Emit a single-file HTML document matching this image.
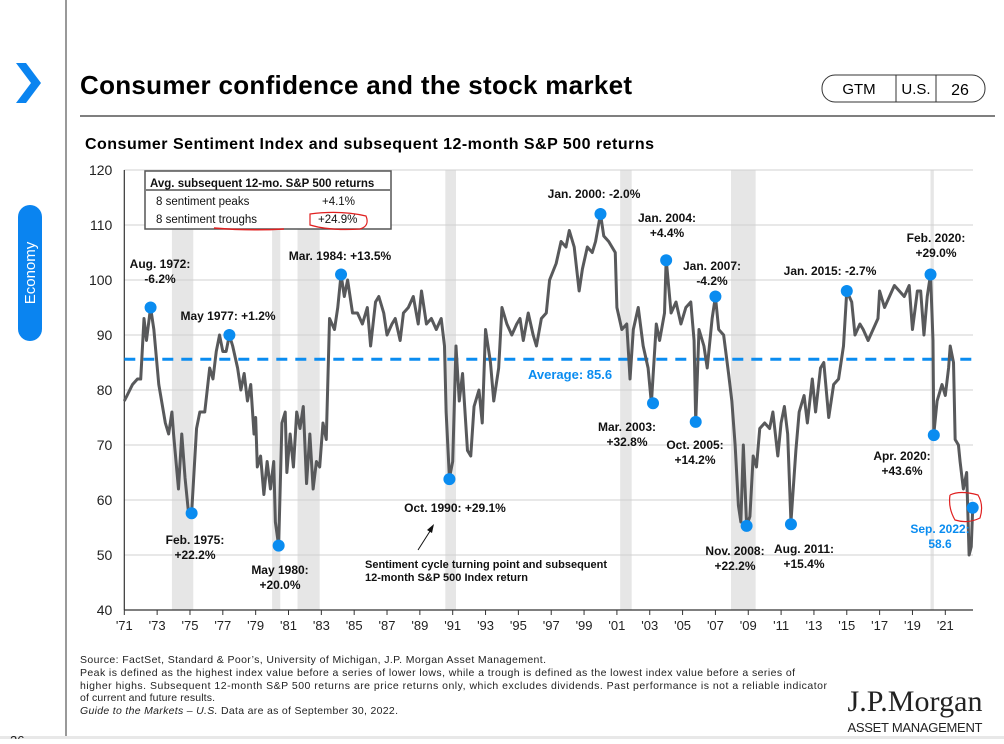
<!DOCTYPE html>
<html><head><meta charset="utf-8"><style>
body{margin:0;background:#fff;width:1004px;height:739px;overflow:hidden;font-family:"Liberation Sans",Arial,sans-serif;}
svg text{font-family:"Liberation Sans",Arial,sans-serif;}
</style></head><body>
<svg id="page" width="1004" height="739" xmlns="http://www.w3.org/2000/svg">
<line x1="66" y1="0" x2="66" y2="739" stroke="#333" stroke-width="1"/>
<rect x="0" y="736" width="1004" height="3" fill="#e8e8e8"/>
<path d="M16,63 L26,63 L41,83 L26,103 L16,103 L31,83 Z" fill="#0a84f0"/>
<rect x="18" y="205" width="24" height="136" rx="12" fill="#0a84f0"/>
<text x="35" y="273" fill="#fff" font-size="15" text-anchor="middle" transform="rotate(-90 35 273)">Economy</text>
<text x="80" y="94" font-size="26" font-weight="bold" fill="#000" textLength="552">Consumer confidence and the stock market</text>
<g>
<rect x="822" y="75" width="163" height="27" rx="13" fill="#fff" stroke="#333"/>
<line x1="896" y1="75" x2="896" y2="102" stroke="#333"/><line x1="936" y1="75" x2="936" y2="102" stroke="#333"/>
<text x="859" y="94" font-size="15" text-anchor="middle">GTM</text>
<text x="916" y="94" font-size="15" text-anchor="middle">U.S.</text>
<text x="960" y="95" font-size="16" text-anchor="middle">26</text>
</g>
<line x1="80" y1="116" x2="995" y2="116" stroke="#333" stroke-width="1.2"/>
<text x="85" y="149" font-size="16" font-weight="bold" textLength="569">Consumer Sentiment Index and subsequent 12-month S&amp;P 500 returns</text>
<g id="chart"></g>
<g font-size="10.5" fill="#222">
<text x="80" y="663" textLength="466">Source: FactSet, Standard &amp; Poor’s, University of Michigan, J.P. Morgan Asset Management.</text>
<text x="80" y="676" textLength="715">Peak is defined as the highest index value before a series of lower lows, while a trough is defined as the lowest index value before a series of</text>
<text x="80" y="689" textLength="747">higher highs. Subsequent 12-month S&amp;P 500 returns are price returns only, which excludes dividends. Past performance is not a reliable indicator</text>
<text x="80" y="701" textLength="135">of current and future results.</text>
<text x="80" y="714" textLength="318"><tspan font-style="italic">Guide to the Markets – U.S.</tspan> Data are as of September 30, 2022.</text>
</g>
<text x="915" y="711" font-size="30" text-anchor="middle" fill="#222" style="font-family:'Liberation Serif',serif" textLength="135">J.P.Morgan</text>
<text x="915" y="732" font-size="13" text-anchor="middle" fill="#222" textLength="135">ASSET MANAGEMENT</text>
<text x="10" y="745" font-size="13" fill="#222">26</text>
</svg>
<script>
const yTicks=[40,50,60,70,80,90,100,110,120];
const xTickYears=[1971,1973,1975,1977,1979,1981,1983,1985,1987,1989,1991,1993,1995,1997,1999,2001,2003,2005,2007,2009,2011,2013,2015,2017,2019,2021];
const recessionStarts=[1973.9,1980.0,1981.55,1990.55,2001.2,2007.95,2020.1];
const recessionEnds=[1975.2,1980.5,1982.9,1991.2,2001.9,2009.45,2020.3];
const averageValue=85.6;
const seriesDates=[1971.0,1971.5,1971.8,1972.0,1972.2,1972.35,1972.6,1972.8,1973.1,1973.5,1973.7,1973.9,1974.0,1974.3,1974.5,1974.7,1974.9,1975.1,1975.4,1975.6,1975.9,1976.2,1976.4,1976.6,1976.8,1977.0,1977.2,1977.4,1977.6,1977.9,1978.1,1978.3,1978.5,1978.7,1978.9,1979.0,1979.1,1979.3,1979.5,1979.7,1979.9,1980.1,1980.2,1980.4,1980.6,1980.8,1980.9,1981.1,1981.3,1981.5,1981.7,1981.9,1982.1,1982.3,1982.5,1982.7,1982.9,1983.1,1983.3,1983.5,1983.8,1984.0,1984.2,1984.4,1984.6,1984.9,1985.2,1985.5,1985.8,1986.0,1986.3,1986.5,1986.8,1987.0,1987.3,1987.5,1987.8,1988.0,1988.3,1988.6,1988.9,1989.1,1989.4,1989.7,1990.0,1990.3,1990.5,1990.6,1990.8,1991.0,1991.2,1991.4,1991.6,1991.9,1992.1,1992.3,1992.6,1992.8,1993.0,1993.3,1993.5,1993.8,1994.0,1994.3,1994.6,1994.9,1995.1,1995.3,1995.6,1995.9,1996.1,1996.4,1996.7,1996.9,1997.3,1997.6,1997.9,1998.1,1998.4,1998.7,1998.9,1999.2,1999.5,1999.7,2000.0,2000.2,2000.5,2000.9,2001.0,2001.3,2001.6,2001.8,2002.0,2002.3,2002.6,2002.9,2003.1,2003.4,2003.6,2003.9,2004.0,2004.3,2004.6,2004.9,2005.2,2005.5,2005.7,2005.8,2006.0,2006.3,2006.5,2006.8,2007.0,2007.2,2007.5,2007.8,2008.0,2008.2,2008.4,2008.55,2008.7,2008.9,2009.1,2009.3,2009.5,2009.7,2010.0,2010.3,2010.5,2010.8,2011.0,2011.2,2011.4,2011.6,2011.9,2012.1,2012.4,2012.6,2012.9,2013.1,2013.4,2013.6,2013.9,2014.2,2014.5,2014.8,2015.0,2015.3,2015.5,2015.8,2016.0,2016.3,2016.6,2016.9,2017.0,2017.3,2017.6,2017.9,2018.2,2018.5,2018.8,2019.0,2019.3,2019.5,2019.7,2019.9,2020.1,2020.25,2020.3,2020.5,2020.8,2021.0,2021.2,2021.3,2021.5,2021.6,2021.8,2021.9,2022.1,2022.3,2022.45,2022.58,2022.67];
const seriesValues=[78,81,82,82,93,89,95,91,81,74,72,76,72,62,72,64,58,57.6,73,76,76,84,82,87,90,87,87,90,88,84,80,83,78,81,72,75,66,68,61,67,62,67,56,51.7,74,76,65,72,66,76,73,77,63,72,62,67,66,74,71,93,91,95,101,97,100,94,94,92,95,88,96,97,94,90,92,93,89,94,95,97,92,98,92,93,91,93,88,76,64,67,88,78,83,69,68,77,80,74,91,85,78,84,95,92,90,92,93,89,94,90,88,93,94,100,103,107,106,109,106,98,102,106,105,107,112,108,107,105,95,91,92,82,91,95,88,84,77.6,92,89,94,103.8,94,96,92,95,96,89,74.2,91,88,84,93,97,91,90,83,78,70,59,56,70,55.3,57,68,66,73,74,73,76,68,74,77,72,56,69,76,79,74,82,76,84,85,75,81,82,88,98,96,90,92,91,89,91,93,98,95,97,99,98,97,99,91,98,98,90,97,101,89,72,78,81,79,84,88,85,71,70,67,62,65,50,51.5,58.6];
const markerDates=[1972.6,1975.1,1977.4,1980.4,1984.2,1990.8,2000.0,2003.2,2004.0,2005.8,2007.0,2008.9,2011.6,2015.0,2020.1,2020.3,2022.67];
const markerValues=[95,57.6,90,51.7,101,63.8,112,77.6,103.6,74.2,97,55.3,55.6,98,101,71.8,58.6];
const annLines=[["Aug. 1972:","-6.2%"],["Feb. 1975:","+22.2%"],["May 1977: +1.2%"],["May 1980:","+20.0%"],["Mar. 1984: +13.5%"],["Oct. 1990: +29.1%"],["Jan. 2000: -2.0%"],["Mar. 2003:","+32.8%"],["Jan. 2004:","+4.4%"],["Oct. 2005:","+14.2%"],["Jan. 2007:","-4.2%"],["Nov. 2008:","+22.2%"],["Aug. 2011:","+15.4%"],["Jan. 2015: -2.7%"],["Feb. 2020:","+29.0%"],["Apr. 2020:","+43.6%"],["Sep. 2022:","58.6"]];
const annPos=[[160,268],[195,544],[228,320],[280,574],[340,260],[455,512],[594,198],[627,431],[667,222],[695,449],[712,270],[735,555],[804,553],[830,275],[936,242],[902,460],[940,533]];

const NS="http://www.w3.org/2000/svg";
const X0=124.3,PX=16.42,Y0=610,PY=5.5,XR=973;
function xs(d){return X0+(d-1971)*PX;}
function ys(v){return Y0-(v-40)*PY;}
const g=document.getElementById('chart');
function mk(t,a,p){const e=document.createElementNS(NS,t);for(const k in a)e.setAttribute(k,a[k]);(p||g).appendChild(e);return e;}
recessionStarts.forEach((s,i)=>{
 const r=mk('rect',{x:xs(s),y:ys(120),width:xs(recessionEnds[i])-xs(s),height:ys(40)-ys(120),fill:'#e6e6e6'});
 
 
});
yTicks.forEach(v=>{
 if(v>40){const l=mk('line',{x1:X0,x2:XR,y1:ys(v),y2:ys(v),stroke:'#d0d0d0','stroke-width':1});
 
 }
 const t=mk('text',{x:X0-12,y:ys(v)+5,'font-size':14,'text-anchor':'end',fill:'#222'});t.textContent=v;
 
 
});
mk('line',{x1:X0,x2:X0,y1:ys(120),y2:ys(40),stroke:'#333','stroke-width':1.2});
const xa=mk('line',{x1:X0,x2:XR,y1:ys(40),y2:ys(40),stroke:'#333','stroke-width':1.2});


xTickYears.forEach(y=>{
 mk('line',{x1:xs(y),x2:xs(y),y1:ys(40),y2:ys(40)+5,stroke:'#333'});
 const t=mk('text',{x:xs(y),y:ys(40)+20,'font-size':13,'text-anchor':'middle',fill:'#222'});t.textContent="'"+String(y).slice(2);
 
 
});
const av=mk('line',{x1:X0,x2:XR,y1:ys(averageValue),y2:ys(averageValue),stroke:'#0a8cf0','stroke-width':3,'stroke-dasharray':'11,8'});


const at=mk('text',{x:528,y:379,'font-size':13,'font-weight':'bold',fill:'#0a8cf0'});at.textContent='Average: '+averageValue;


const pl=mk('polyline',{points:seriesDates.map((d,i)=>xs(d)+','+ys(seriesValues[i])).join(' '),fill:'none',stroke:'#58595b','stroke-width':3,'stroke-linejoin':'round'});


markerDates.forEach((d,i)=>{
 const c=mk('circle',{cx:xs(d),cy:ys(markerValues[i]),r:6,fill:'#0a8cf0'});
 
 
 const last=i===markerDates.length-1;
 const t=mk('text',{x:annPos[i][0],y:annPos[i][1],'font-size':12,'font-weight':'bold','text-anchor':'middle',fill:last?'#0a8cf0':'#111'});
 
 
 annLines[i].forEach((s,j)=>{const ts=mk('tspan',{x:annPos[i][0],dy:j?15:0},t);ts.textContent=s;});
});
mk('line',{x1:418,y1:550,x2:432,y2:528,stroke:'#111','stroke-width':1});
mk('path',{d:'M434,524 L427,530 L432,533 Z',fill:'#111'});
const n=mk('text',{x:365,y:568,'font-size':11,'font-weight':'bold',fill:'#111'});


[['Sentiment cycle turning point and subsequent',0],['12-month S&P 500 Index return',13]].forEach(a=>{const ts=mk('tspan',{x:365,dy:a[1]},n);ts.textContent=a[0];});
const lg=mk('g',{});


mk('rect',{x:145,y:171,width:246,height:58,fill:'#fff',stroke:'#555','stroke-width':1.5},lg);
mk('line',{x1:146,x2:390,y1:190,y2:190,stroke:'#333','stroke-width':1.2},lg);
[['Avg. subsequent 12-mo. S&P 500 returns',150,187,'bold',''],['8 sentiment peaks',156,205,'',''],['+4.1%',322,205,'',''],['8 sentiment troughs',156,223,'',''],['+24.9%',318,223,'','']].forEach(a=>{const t=mk('text',{x:a[1],y:a[2],'font-size':11.5,'font-weight':a[3]||'normal',fill:'#111'},lg);t.textContent=a[0];});
mk('path',{d:'M214,228 Q250,231 284,229',stroke:'#e02020',fill:'none','stroke-width':1.5});
mk('path',{d:'M310,214 Q340,210 366,216 Q370,226 360,229 Q330,231 310,225 Z',stroke:'#e02020',fill:'none','stroke-width':1.2});
mk('path',{d:'M950,495 Q960,490 978,495 Q984,505 980,518 Q968,524 955,520 Q948,508 950,495',stroke:'#e02020',fill:'none','stroke-width':1.2});
</script>
</body></html>
